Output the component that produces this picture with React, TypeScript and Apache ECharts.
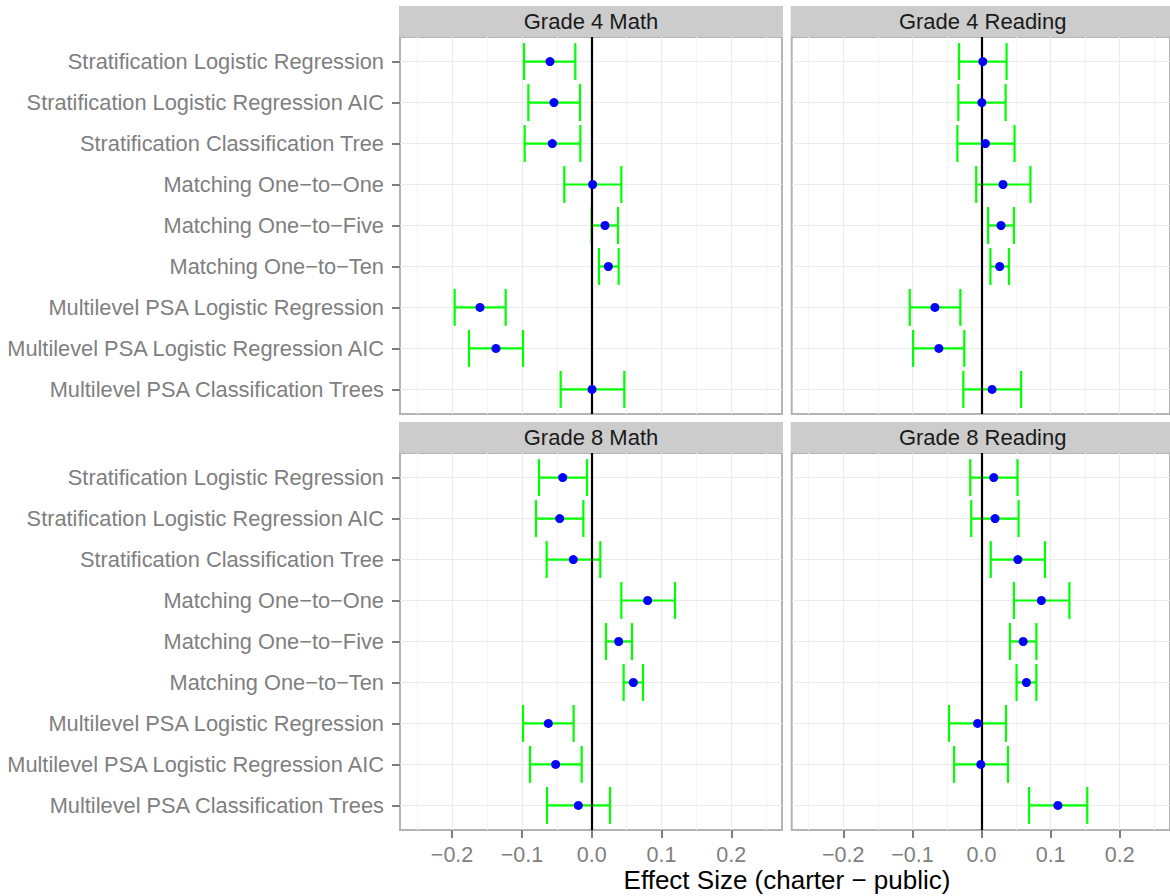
import React, { useEffect, useRef } from "react";
import * as echarts from "echarts";

const methods = [
  "Stratification Logistic Regression",
  "Stratification Logistic Regression AIC",
  "Stratification Classification Tree",
  "Matching One\u2212to\u2212One",
  "Matching One\u2212to\u2212Five",
  "Matching One\u2212to\u2212Ten",
  "Multilevel PSA Logistic Regression",
  "Multilevel PSA Logistic Regression AIC",
  "Multilevel PSA Classification Trees",
];

const panelTitles = ["Grade 4 Math", "Grade 4 Reading", "Grade 8 Math", "Grade 8 Reading"];

const g4MathEst = [-0.0597, -0.054, -0.0564, 0.0014, 0.0191, 0.0239, -0.16, -0.1371, 0.0005];
const g4MathLo = [-0.0969, -0.0907, -0.096, -0.0392, 0.0, 0.0105, -0.1963, -0.1757, -0.0444];
const g4MathHi = [-0.0234, -0.0167, -0.0162, 0.0425, 0.0377, 0.0387, -0.1232, -0.0984, 0.0468];

const g4ReadEst = [0.0019, 0.0005, 0.0057, 0.0311, 0.0282, 0.0263, -0.0674, -0.0617, 0.0153];
const g4ReadLo = [-0.0325, -0.0335, -0.0349, -0.0077, 0.0096, 0.0129, -0.1038, -0.099, -0.0263];
const g4ReadHi = [0.0363, 0.0349, 0.0478, 0.0708, 0.0469, 0.0397, -0.0306, -0.0249, 0.0574];

const g8MathEst = [-0.0415, -0.0458, -0.0263, 0.0802, 0.0387, 0.0597, -0.0621, -0.0516, -0.0191];
const g8MathLo = [-0.0755, -0.0798, -0.0645, 0.0425, 0.0205, 0.0458, -0.0984, -0.0883, -0.064];
const g8MathHi = [-0.0067, -0.0119, 0.0124, 0.1194, 0.0578, 0.0735, -0.0258, -0.0143, 0.0263];

const g8ReadEst = [0.0177, 0.0196, 0.0526, 0.0866, 0.0603, 0.065, -0.0057, -0.001, 0.1105];
const g8ReadLo = [-0.0163, -0.0148, 0.0134, 0.0469, 0.0411, 0.0507, -0.0469, -0.0397, 0.0689];
const g8ReadHi = [0.0521, 0.0536, 0.0918, 0.1272, 0.0794, 0.0794, 0.0354, 0.0383, 0.153];

const xTicks = [-0.2, -0.1, 0, 0.1, 0.2];
const xMinor = [-0.25, -0.15, -0.05, 0.05, 0.15, 0.25];
const X_MIN = -0.2746;
const X_MAX = 0.2727;

const FONT = "'Liberation Sans', Arial, Helvetica, sans-serif";

export default function App() {
  const ref = useRef<HTMLDivElement>(null);

  useEffect(() => {
    if (!ref.current) return;
    const chart = echarts.init(ref.current, undefined, { renderer: "svg" });

    const panelData = [
      { est: g4MathEst, lo: g4MathLo, hi: g4MathHi },
      { est: g4ReadEst, lo: g4ReadLo, hi: g4ReadHi },
      { est: g8MathEst, lo: g8MathLo, hi: g8MathHi },
      { est: g8ReadEst, lo: g8ReadLo, hi: g8ReadHi },
    ];
    const lefts = [400, 791.7, 400, 791.7];
    const tops = [37, 37, 453, 453];
    const W = 382;
    const H = 377;
    const catIdx = methods.map((_, i) => i + 1);

    const grids = lefts.map((l, i) => ({
      left: l,
      top: tops[i],
      width: W,
      height: H,
      show: true,
      backgroundColor: "#ffffff",
      borderColor: "#b3b3b3",
      borderWidth: 2,
    }));

    const xAxes = lefts.map((_, i) => {
      const bottom = i >= 2;
      return {
        type: "value",
        gridIndex: i,
        position: "bottom",
        min: X_MIN,
        max: X_MAX,
        splitLine: { show: false },
        axisLine: { show: false, onZero: false },
        axisTick: {
          show: bottom,
          customValues: xTicks,
          length: 8,
          lineStyle: { color: "#7f7f7f", width: 2 },
        },
        axisLabel: {
          show: bottom,
          customValues: xTicks,
          margin: 14,
          color: "#7f7f7f",
          fontSize: 21.5,
          fontFamily: FONT,
          formatter: (v: number) => (v < -1e-9 ? "\u2212" : "") + Math.abs(v).toFixed(1),
        },
      };
    });

    const yAxes = lefts.map((_, i) => {
      const left = i % 2 === 0;
      return {
        type: "value",
        gridIndex: i,
        position: "left",
        min: 0.4,
        max: 9.6,
        inverse: true,
        splitLine: { show: false },
        axisLine: { show: false, onZero: false },
        axisTick: {
          show: left,
          customValues: catIdx,
          length: 8,
          lineStyle: { color: "#7f7f7f", width: 2 },
        },
        axisLabel: {
          show: left,
          customValues: catIdx,
          margin: 16,
          color: "#7f7f7f",
          fontSize: 21.8,
          fontFamily: FONT,
          formatter: (v: number) => methods[Math.round(v) - 1] ?? "",
        },
      };
    });

    const series: any[] = [];
    panelData.forEach((p, i) => {
      const gridLines = [
        ...xMinor.map((v) => ({ xAxis: v, lineStyle: { color: "#f4f4f4", width: 1.2, type: "solid" } })),
        ...xTicks.map((v) => ({ xAxis: v, lineStyle: { color: "#ebebeb", width: 1.2, type: "solid" } })),
        ...catIdx.map((v) => ({ yAxis: v, lineStyle: { color: "#ebebeb", width: 1.2, type: "solid" } })),
      ];
      series.push({
        type: "custom",
        xAxisIndex: i,
        yAxisIndex: i,
        z: 2,
        silent: true,
        data: p.lo.map((lo, k) => [lo, p.hi[k], k + 1]),
        encode: { x: [0, 1], y: 2 },
        renderItem: (params: any, api: any) => {
          const lo = api.value(0);
          const hi = api.value(1);
          const y = api.value(2);
          const a = api.coord([lo, y]);
          const b = api.coord([hi, y]);
          const capT = api.coord([lo, y - 0.45]);
          const capB = api.coord([lo, y + 0.45]);
          const style = { stroke: "#00ff00", lineWidth: 2.2 };
          return {
            type: "group",
            children: [
              { type: "line", shape: { x1: a[0], y1: a[1], x2: b[0], y2: b[1] }, style },
              { type: "line", shape: { x1: a[0], y1: capT[1], x2: a[0], y2: capB[1] }, style },
              { type: "line", shape: { x1: b[0], y1: capT[1], x2: b[0], y2: capB[1] }, style },
            ],
          };
        },
        markLine: {
          z: 1,
          silent: true,
          symbol: ["none", "none"],
          label: { show: false },
          lineStyle: { type: "solid" },
          animation: false,
          data: gridLines,
        },
      });
      series.push({
        type: "scatter",
        xAxisIndex: i,
        yAxisIndex: i,
        z: 4,
        silent: true,
        symbol: "circle",
        symbolSize: 9,
        itemStyle: { color: "#0000ff", opacity: 1 },
        data: p.est.map((v, k) => [v, k + 1]),
        markLine: {
          z: 3,
          silent: true,
          symbol: ["none", "none"],
          label: { show: false },
          lineStyle: { type: "solid" },
          animation: false,
          data: [{ xAxis: 0, lineStyle: { color: "#000000", width: 2.2, type: "solid" } }],
        },
      });
    });

    const graphics: any[] = [];
    lefts.forEach((l, i) => {
      graphics.push({
        type: "rect",
        silent: true,
        shape: { x: l - 1, y: tops[i] - 31, width: W + 2, height: 31 },
        style: { fill: "#cccccc" },
      });
      graphics.push({
        type: "text",
        silent: true,
        x: l + W / 2,
        y: tops[i] - 15.5,
        style: {
          text: panelTitles[i],
          fontSize: 22,
          fontFamily: FONT,
          fill: "#1a1a1a",
          align: "center",
          verticalAlign: "middle",
        },
      });
    });
    graphics.push({
      type: "text",
      silent: true,
      x: 787,
      y: 880,
      style: {
        text: "Effect Size (charter \u2212 public)",
        fontSize: 26,
        fontFamily: FONT,
        fill: "#000000",
        align: "center",
        verticalAlign: "middle",
      },
    });

    chart.setOption({
      animation: false,
      backgroundColor: "#ffffff",
      grid: grids,
      xAxis: xAxes,
      yAxis: yAxes,
      series,
      graphic: graphics,
    });

    return () => chart.dispose();
  }, []);

  return (
    <div
      ref={ref}
      style={{ position: "absolute", left: 0, top: 0, width: 1170, height: 896 }}
    />
  );
}
